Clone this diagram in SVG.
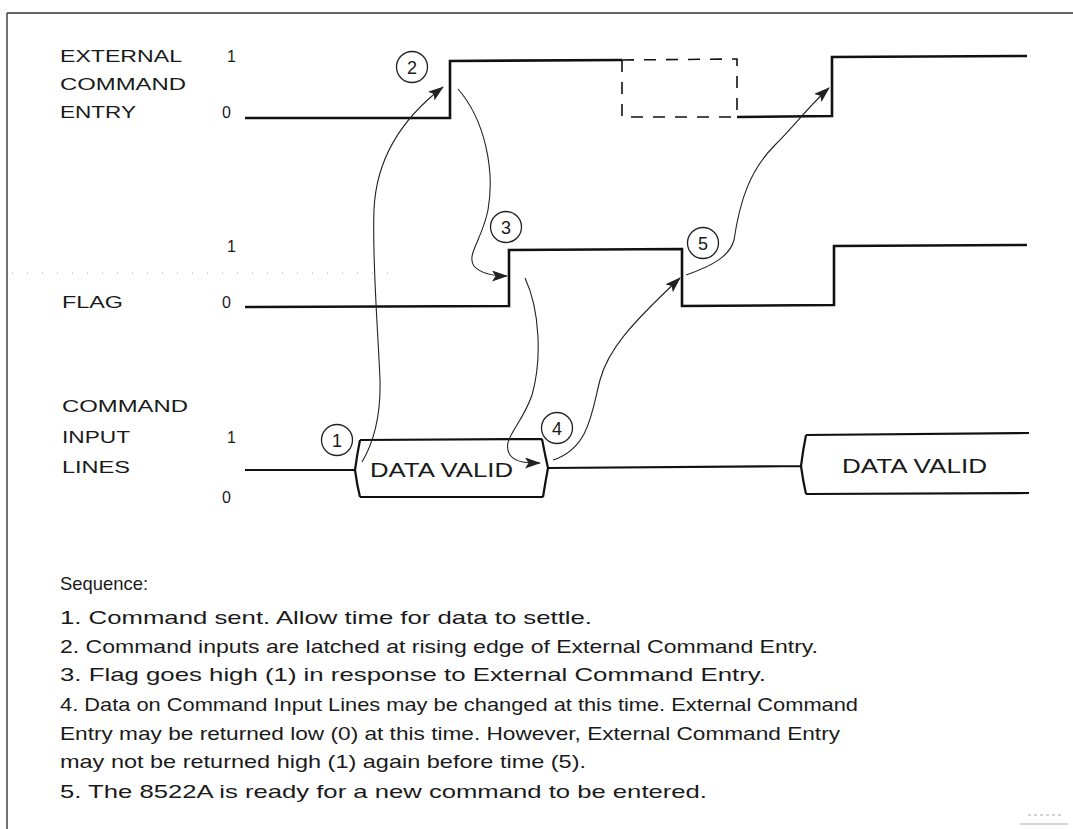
<svg xmlns="http://www.w3.org/2000/svg" width="1073" height="829" viewBox="0 0 1073 829">
<defs>
<style>
.lbl{font-family:"Liberation Sans",Arial,sans-serif;font-size:16px;fill:#1a1a1a}
.seq{font-family:"Liberation Sans",Arial,sans-serif;font-size:18.5px;fill:#1a1a1a}
.num{font-family:"Liberation Sans",Arial,sans-serif;font-size:18px;fill:#1a1a1a;text-anchor:middle}
.dv{font-family:"Liberation Sans",Arial,sans-serif;font-size:21px;fill:#1a1a1a}
.sig{fill:none;stroke:#111;stroke-width:2.6;stroke-linejoin:miter}
.dash{fill:none;stroke:#111;stroke-width:1.6;stroke-dasharray:12 10}
.bus{fill:none;stroke:#111;stroke-width:2.2}
.cur{fill:none;stroke:#222;stroke-width:1.1;marker-end:url(#ah)}
.circ{fill:#fff;stroke:#222;stroke-width:1.3}
.frame{fill:none;stroke:#333;stroke-width:1.4}
.spec{fill:none;stroke:#aaa;stroke-width:1}
</style>
<marker id="ah" viewBox="0 0 16 11" refX="15" refY="5.5" markerWidth="16" markerHeight="11" markerUnits="userSpaceOnUse" orient="auto">
<path d="M0,0 L16,5.5 L0,11 L3.5,5.5 Z" fill="#222"/>
</marker>
</defs>

<g id="frame">
<path class="frame" d="M7,13 L1073,13 M7,13 L7,829"/>
<path class="spec" d="M12,273 L390,273" stroke-dasharray="1 14"/>
<path class="spec" d="M1028,815 L1062,815" stroke-dasharray="3 3"/>
<path class="spec" d="M1020,824 L1068,824"/>
</g>

<g id="ece">
<text class="lbl" x="60" y="62" textLength="122" lengthAdjust="spacingAndGlyphs">EXTERNAL</text>
<text class="lbl" x="60" y="90" textLength="126" lengthAdjust="spacingAndGlyphs">COMMAND</text>
<text class="lbl" x="60" y="118" textLength="76" lengthAdjust="spacingAndGlyphs">ENTRY</text>
<text class="lbl" x="227" y="62">1</text>
<text class="lbl" x="222" y="118">0</text>
<path class="sig" d="M245,118 L450,118 L450,61 L622,60"/>
<path class="dash" d="M622,60 L622,117 L737,117 M622,60 L737,59 L737,117"/>
<path class="sig" d="M737,117 L832,116 L832,57 L1027,56"/>
</g>

<g id="flag">
<text class="lbl" x="227" y="252">1</text>
<text class="lbl" x="62" y="308" textLength="61" lengthAdjust="spacingAndGlyphs">FLAG</text>
<text class="lbl" x="222" y="308">0</text>
<path class="sig" d="M245,307 L509,306 L509,250 L682,249 L682,306 L834,305 L834,246 L1027,245"/>
</g>

<g id="cil">
<text class="lbl" x="62" y="412" textLength="126" lengthAdjust="spacingAndGlyphs">COMMAND</text>
<text class="lbl" x="62" y="443" textLength="68" lengthAdjust="spacingAndGlyphs">INPUT</text>
<text class="lbl" x="62" y="473" textLength="68" lengthAdjust="spacingAndGlyphs">LINES</text>
<text class="lbl" x="227" y="443">1</text>
<text class="lbl" x="222" y="503">0</text>
<path class="bus" d="M245,470 L355,470 M360,440 L542,439 M360,497 L543,497 M360,440 Q357,455 355,470 Q357,485 360,497 M542,439 Q545,455 548,468 Q545,484 543,497 M548,468 L802,466 M806,435 L1029,433 M806,494 L1029,493 M806,435 Q803,450 801,466 Q803,481 806,494"/>
<text class="dv" x="370" y="477" textLength="143" lengthAdjust="spacingAndGlyphs">DATA VALID</text>
<text class="dv" x="842" y="473" textLength="145" lengthAdjust="spacingAndGlyphs">DATA VALID</text>
</g>

<g id="connectors">
<path class="cur" d="M362,462 C372,445 381,420 380,380 C378,330 372,260 374,210 C376,160 400,120 443,87"/>
<path class="cur" d="M458,89 C485,120 495,170 488,210 C482,240 466,255 474,266 C481,274 494,276 507,276"/>
<path class="cur" d="M525,278 C540,310 542,360 532,395 C522,425 500,440 510,455 C516,463 528,463 540,463"/>
<path class="cur" d="M553,460 C590,448 592,410 600,380 C608,350 630,325 680,278"/>
<path class="cur" d="M686,275 C715,265 730,255 734,240 C740,200 750,170 775,145 C795,125 810,105 829,88"/>
</g>

<g id="m1"><circle class="circ" cx="337" cy="440" r="15.5"/><text class="num" x="337" y="446.5">1</text></g>
<g id="m2"><circle class="circ" cx="412" cy="67" r="15.5"/><text class="num" x="412" y="73.5">2</text></g>
<g id="m3"><circle class="circ" cx="506" cy="227" r="15.5"/><text class="num" x="506" y="233.5">3</text></g>
<g id="m4"><circle class="circ" cx="557" cy="428" r="15.5"/><text class="num" x="557" y="434.5">4</text></g>
<g id="m5"><circle class="circ" cx="703" cy="243" r="15.5"/><text class="num" x="703" y="249.5">5</text></g>

<g id="sequence">
<text class="seq" x="60" y="590" textLength="88" lengthAdjust="spacingAndGlyphs">Sequence:</text>
<text class="seq" x="60" y="624" textLength="532" lengthAdjust="spacingAndGlyphs">1. Command sent. Allow time for data to settle.</text>
<text class="seq" x="60" y="653" textLength="758" lengthAdjust="spacingAndGlyphs">2. Command inputs are latched at rising edge of External Command Entry.</text>
<text class="seq" x="60" y="681" textLength="706" lengthAdjust="spacingAndGlyphs">3. Flag goes high (1) in response to External Command Entry.</text>
<text class="seq" x="60" y="711" textLength="798" lengthAdjust="spacingAndGlyphs">4. Data on Command Input Lines may be changed at this time. External Command</text>
<text class="seq" x="60" y="740" textLength="780" lengthAdjust="spacingAndGlyphs">Entry may be returned low (0) at this time. However, External Command Entry</text>
<text class="seq" x="60" y="768" textLength="526" lengthAdjust="spacingAndGlyphs">may not be returned high (1) again before time (5).</text>
<text class="seq" x="60" y="798" textLength="647" lengthAdjust="spacingAndGlyphs">5. The 8522A is ready for a new command to be entered.</text>
</g>
</svg>
